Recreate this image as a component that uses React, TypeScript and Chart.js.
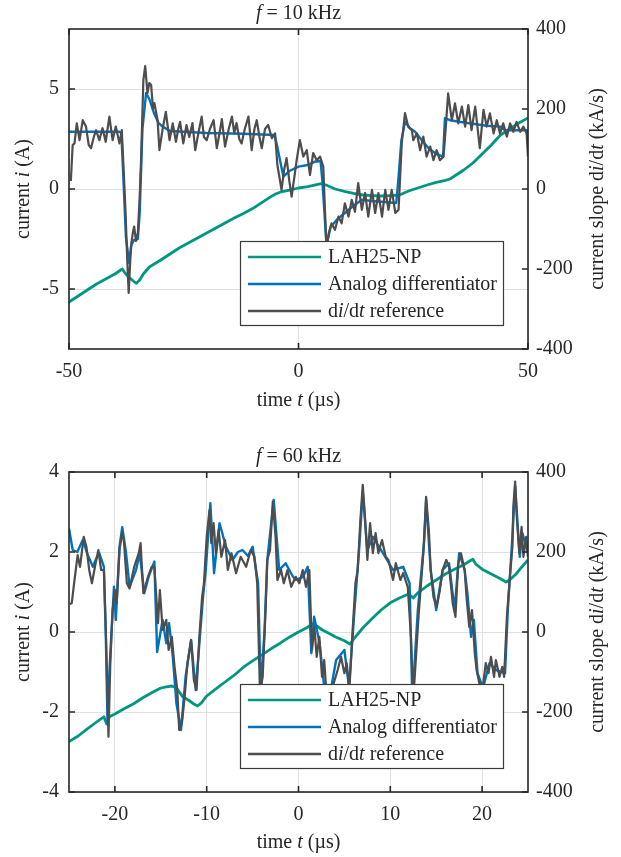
import React, { useEffect, useRef } from "react";
import { Chart, registerables } from "chart.js";
Chart.register(...registerables);

// ---------------- data: top panel (f = 10 kHz) ----------------
const TOP_X_TICKS = [-50, 0, 50];
const TOP_I_TICKS = [-5, 0, 5];
const SLOPE_TICKS = [-400, -200, 0, 200, 400];

const TOP_LAH_T = [-50, -48, -46, -44, -42, -40, -38.4, -37.8, -37, -36, -35.3, -34.6, -33.8, -32.5, -30, -28, -26, -24, -22, -20, -18, -16, -14, -12, -10, -8, -6, -5, -4, -2, 0, 2, 4, 5, 6, 7, 8, 10, 12, 14, 16, 18, 20, 22, 23, 24, 26, 28, 30, 32, 33, 34, 36, 38, 40, 42, 44, 46, 48, 50];
const TOP_LAH_I = [-5.65, -5.35, -5.05, -4.75, -4.5, -4.25, -4.0, -4.2, -4.4, -4.6, -4.72, -4.55, -4.25, -3.9, -3.55, -3.25, -2.95, -2.7, -2.45, -2.2, -1.95, -1.7, -1.45, -1.22, -0.98, -0.68, -0.38, -0.25, -0.16, -0.06, 0.05, 0.12, 0.22, 0.27, 0.2, 0.1, 0.0, -0.12, -0.22, -0.3, -0.33, -0.35, -0.33, -0.3, -0.2, -0.1, 0.05, 0.2, 0.33, 0.43, 0.5, 0.65, 0.95, 1.3, 1.75, 2.2, 2.7, 3.0, 3.3, 3.55];

const TOP_ANA_T = [-50, -39, -38.6, -38.2, -37.6, -36.9, -36.4, -35.8, -35.0, -34.6, -34.0, -33.2, -32.5, -31.5, -30.5, -29.6, -28, -20, -12, -5.2, -4.7, -3.3, -2, 0, 2, 3.5, 4.8, 5.2, 6.1, 7, 8.5, 10.1, 12, 13.8, 16, 18, 21.3, 21.8, 22.4, 23.2, 24.3, 25.4, 27, 28.5, 30, 31.5, 31.9, 33, 35, 38, 41, 43.9, 45, 48, 49.7, 50];
const TOP_ANA_V = [143, 143, 140, 40, -120, -185, -140, -127, -125, -60, 150, 240, 225, 190, 165, 156, 145, 140, 138, 135, 110, 31, 45, 56, 60, 68, 70, 20, -140, -95, -75, -60, -42, -27, -30, -32, -35, 30, 120, 168, 152, 143, 120, 100, 88, 81, 177, 172, 168, 163, 158, 156, 147, 147, 147, 130];

const TOP_REF_T = [-49.6, -49.2, -48.8, -48.3, -47.7, -47, -46.3, -45.7, -45.2, -44.6, -44.1, -43.4, -42.7, -42, -41.6, -41.2, -40.5, -39.8, -39, -38.5, -38.1, -37.7, -37.3, -37, -36.5, -36.1, -35.8, -35.4, -35, -34.6, -34.3, -33.8, -33.4, -32.9, -32.5, -32.1, -31.7, -31.4, -30.7, -30.3, -29.6, -28.9, -28.1, -27.4, -26.7, -26.2, -25.8, -25.1, -24.4, -23.8, -23.1, -22.5, -21.8, -21.1, -20.6, -20, -19.3, -18.5, -17.8, -17.2, -16.7, -16, -15.2, -14.5, -14, -13.5, -12.9, -12.4, -11.7, -10.9, -10.2, -9.6, -9.1, -8.5, -8, -7.3, -6.6, -5.8, -5.1, -4.6, -3.7, -3.1, -2.6, -2, -1.5, -0.9, -0.4, 0.3, 1.05, 1.8, 2.5, 3.2, 3.96, 4.7, 5.4, 6.1, 6.6, 7.2, 7.95, 8.7, 9.4, 10.1, 10.9, 11.6, 12.3, 13, 13.8, 14.5, 15.2, 16, 16.7, 17.4, 18.2, 18.9, 19.6, 20.3, 21.1, 21.8, 22.5, 23.2, 23.9, 24.7, 25, 25.8, 26.5, 27.2, 27.9, 28.7, 29.4, 30.1, 30.8, 31.6, 32.1, 32.6, 33.4, 34.1, 34.8, 35.6, 36.3, 37, 37.7, 38.5, 39.5, 40.3, 41, 41.7, 42.5, 43.2, 43.9, 44.6, 45.4, 46.1, 46.8, 47.5, 48.3, 49, 49.7, 50];
const TOP_REF_V = [20, 110, 114, 164, 122, 172, 156, 110, 102, 130, 147, 122, 152, 118, 150, 181, 122, 156, 114, 147, 50, -52, -180, -260, -144, -110, -94, -130, -110, -20, 72, 272, 307, 240, 265, 260, 200, 215, 172, 97, 150, 193, 122, 164, 118, 150, 168, 114, 160, 130, 165, 97, 140, 181, 130, 122, 150, 172, 102, 140, 175, 106, 150, 181, 140, 165, 125, 114, 150, 181, 97, 150, 172, 130, 102, 150, 160, 127, 139, 60, -2, 50, 77, 20, -19, 30, 72, 122, 81, 97, 35, 90, 72, 81, 56, -150, -110, -86, -102, -69, -86, -36, -69, -27, -57, 15, -52, -10, -69, -2, -60, -10, -69, -2, -52, -2, -60, -52, 115, 190, 156, 147, 122, 139, 97, 131, 81, 106, 72, 97, 72, 81, 156, 239, 172, 214, 164, 206, 156, 210, 147, 206, 102, 198, 156, 189, 139, 172, 139, 164, 131, 164, 143, 168, 143, 156, 139, 81];

// ---------------- data: bottom panel (f = 60 kHz) ----------------
const BOT_X_TICKS = [-20, -10, 0, 10, 20];
const BOT_I_TICKS = [-4, -2, 0, 2, 4];

const BOT_LAH_T = [-25, -24, -23, -22, -21.2, -20.9, -20.6, -20, -19, -18, -17, -16, -15, -14.4, -13.8, -13.3, -12.6, -12, -11.4, -11, -10.6, -10, -9, -8, -7, -6, -5, -4, -3, -2, -1, 0, 1, 1.5, 2, 2.6, 3.2, 4, 5, 5.6, 6, 7, 8, 9, 10, 11, 12, 12.5, 13, 14, 15, 16, 17, 18, 18.7, 19, 19.3, 20, 21, 22, 22.6, 23, 23.7, 24.3, 25];
const BOT_LAH_I = [-2.74, -2.6, -2.42, -2.25, -2.12, -2.3, -2.12, -2.05, -1.92, -1.8, -1.65, -1.52, -1.4, -1.37, -1.35, -1.4, -1.62, -1.7, -1.8, -1.85, -1.78, -1.6, -1.42, -1.25, -1.08, -0.88, -0.72, -0.57, -0.42, -0.28, -0.13, 0, 0.12, 0.2, 0.15, 0.05, -0.02, -0.12, -0.22, -0.3, -0.18, 0.1, 0.33, 0.55, 0.73, 0.85, 0.95, 0.85, 0.98, 1.15, 1.3, 1.45, 1.57, 1.68, 1.78, 1.82, 1.7, 1.57, 1.45, 1.33, 1.25, 1.3, 1.45, 1.62, 1.8];

const BOT_ANA_T = [-25, -24.6, -24.1, -23.5, -23, -22.4, -22, -21.7, -21.2, -21.0, -20.8, -20.6, -20.4, -20.1, -19.9, -19.5, -19.2, -18.8, -18.4, -17.7, -17.3, -16.8, -16.3, -15.7, -15.4, -14.8, -14.4, -14.1, -13.7, -13.3, -12.8, -12.3, -11.7, -11.2, -10.7, -10.4, -10.1, -9.6, -9.2, -8.6, -7.9, -7.2, -6.6, -6.1, -5.5, -5, -4.4, -4.1, -3.7, -3.4, -2.7, -2.1, -1.4, -0.6, -0.3, 0.5, 1, 1.4, 1.7, 2.3, 2.8, 3.4, 4.1, 5, 5.5, 6.1, 6.6, 7, 7.5, 8.1, 9.2, 10.3, 11.4, 12.1, 12.4, 13, 13.7, 13.9, 14.4, 15, 15.7, 16.4, 17, 17.5, 18.1, 18.4, 18.8, 19.1, 19.5, 20.1, 20.8, 21.5, 22.5, 22.8, 23.3, 23.6, 24.1, 24.4, 25];
const BOT_ANA_V = [259, 205, 200, 230, 195, 163, 185, 197, 163, 0, -228, -100, -12, 113, 30, 213, 262, 200, 113, 155, 197, 97, 140, 176, -50, 30, -28, 22, -60, -178, -245, -112, -20, -145, 0, 88, 155, 322, 147, 272, 213, 180, 200, 205, 190, 213, 122, -150, 5, 180, 330, 155, 172, 138, 130, 138, 163, -53, 38, -28, -137, -160, -70, -45, -137, 55, 205, 350, 205, 238, 197, 155, 163, 122, -170, 55, 230, 330, 155, 55, 155, 172, 55, 197, 155, 97, -12, 30, -103, -140, -78, -95, -103, 55, 238, 365, 188, 247, 197];

const BOT_REF_T = [-24.9, -24.7, -24.4, -24.06, -23.8, -23.4, -23.1, -22.8, -22.5, -22.1, -21.8, -21.5, -21.2, -20.97, -20.7, -20.5, -20.25, -20, -19.8, -19.5, -19.2, -19, -18.7, -18.4, -17.9, -17.4, -17.2, -16.9, -16.4, -16, -15.7, -15.3, -15.1, -14.8, -14.4, -14.15, -13.8, -13.5, -13.2, -13, -12.7, -12.4, -12.1, -11.7, -11.4, -11.1, -10.8, -10.5, -10.3, -10, -9.7, -9.5, -9.25, -9, -8.7, -8.4, -8, -7.7, -7.3, -6.8, -6.3, -5.7, -5.2, -4.8, -4.5, -4.2, -3.9, -3.6, -3.4, -3.1, -2.8, -2.5, -2.3, -1.9, -1.6, -1.2, -0.8, -0.3, 0.09, 0.46, 0.82, 1.18, 1.47, 1.73, 1.98, 2.27, 2.56, 2.8, 3.07, 3.36, 3.72, 4.27, 4.63, 5, 5.25, 5.54, 5.9, 6.2, 6.45, 6.74, 7, 7.24, 7.5, 7.8, 8.1, 8.4, 8.7, 9.1, 9.5, 9.8, 10.3, 10.6, 11.1, 11.4, 11.9, 12.25, 12.5, 12.8, 13.1, 13.4, 13.6, 13.9, 14.2, 14.4, 14.7, 15.05, 15.4, 15.7, 16.1, 16.4, 16.8, 17.1, 17.4, 17.7, 18.1, 18.3, 18.6, 18.9, 19.2, 19.4, 19.7, 20.06, 20.4, 20.7, 20.97, 21.3, 21.5, 21.9, 22.2, 22.4, 22.7, 23, 23.3, 23.4, 23.6, 23.8, 24.05, 24.3, 24.5, 24.8, 25];
const BOT_REF_V = [70, 72, 130, 192, 163, 238, 213, 155, 122, 172, 205, 155, 155, -12, -262, -78, 55, 105, 72, 205, 251, 222, 122, 109, 163, 197, 222, 97, 138, 163, 163, 22, 105, 5, 30, -45, -12, -87, -145, -245, -228, -162, -78, -20, -120, -145, -12, 88, 122, 238, 305, 222, 272, 197, 255, 188, 230, 155, 197, 147, 188, 163, 205, 188, 122, -150, -112, 47, 180, 205, 326, 238, 130, 155, 122, 155, 113, 138, 122, 155, 113, 155, -45, 13, -62, -12, -112, -70, -162, -178, -137, -95, -62, -103, -78, -145, 5, 122, 155, 280, 368, 288, 180, 272, 197, 247, 197, 230, 188, 180, 130, 172, 130, 147, 113, -12, -170, -62, 47, 138, 197, 338, 255, 155, 88, 63, 105, 155, 180, 163, 72, 38, 172, 197, 155, 88, 13, 55, -53, -95, -128, -140, -78, -103, -62, -112, -70, -112, -87, -112, 38, 130, 213, 313, 376, 280, 197, 263, 188, 238, 188];

// ---------------- styling ----------------
const FONT = '"Liberation Serif", "Times New Roman", serif';
const FS = 20;
const TEXT = "#262626";
const C_LAH = "#00977F";
const C_ANA = "#0072BD";
const C_REF = "#4D4D4D";
const GRID = "#e0e0e0";

type Part = [string, boolean];

function fnt(it: boolean) {
  return `${it ? "italic " : ""}${FS}px ${FONT}`;
}
function drawRich(ctx: CanvasRenderingContext2D, parts: Part[], x: number, y: number, align: "center" | "left") {
  let w = 0;
  for (const [s, it] of parts) {
    ctx.font = fnt(it);
    w += ctx.measureText(s).width;
  }
  let cx = align === "center" ? x - w / 2 : x;
  ctx.textBaseline = "middle";
  ctx.textAlign = "left";
  ctx.fillStyle = TEXT;
  for (const [s, it] of parts) {
    ctx.font = fnt(it);
    ctx.fillText(s, cx, y);
    cx += ctx.measureText(s).width;
  }
}

const zip = (t: number[], v: number[]) => t.map((x, i) => ({ x, y: v[i] }));

interface PanelProps {
  freq: string;
  canvasH: number;
  padTop: number;
  xAxisH: number;
  xMin: number;
  xMax: number;
  iMin: number;
  iMax: number;
  xTicks: number[];
  iTicks: number[];
  titleY: number;
  xLabelY: number;
  lahT: number[];
  lahI: number[];
  anaT: number[];
  anaV: number[];
  refT: number[];
  refV: number[];
}

function Panel(p: PanelProps) {
  const ref = useRef<HTMLCanvasElement | null>(null);
  useEffect(() => {
    const canvas = ref.current!;
    const deco = {
      id: "deco",
      afterDraw(chart: any) {
        const ctx: CanvasRenderingContext2D = chart.ctx;
        const a = chart.chartArea;
        const xs = chart.scales.x;
        const ys = chart.scales.y;
        const y1 = chart.scales.y1;
        ctx.save();
        // box
        ctx.strokeStyle = TEXT;
        ctx.lineWidth = 1.6;
        ctx.strokeRect(a.left, a.top, a.right - a.left, a.bottom - a.top);
        // ticks
        const TL = 6;
        ctx.beginPath();
        for (const v of p.xTicks) {
          const px = xs.getPixelForValue(v);
          ctx.moveTo(px, a.bottom);
          ctx.lineTo(px, a.bottom - TL);
          ctx.moveTo(px, a.top);
          ctx.lineTo(px, a.top + TL);
        }
        for (const v of p.iTicks) {
          const py = ys.getPixelForValue(v);
          ctx.moveTo(a.left, py);
          ctx.lineTo(a.left + TL, py);
        }
        for (const v of SLOPE_TICKS) {
          const py = y1.getPixelForValue(v);
          ctx.moveTo(a.right, py);
          ctx.lineTo(a.right - TL, py);
        }
        ctx.stroke();
        // legend
        const lx = 240, lw = 264, ly = a.top + 212, lh = 85;
        ctx.fillStyle = "#ffffff";
        ctx.fillRect(lx, ly, lw, lh);
        ctx.strokeStyle = "#3a3a3a";
        ctx.lineWidth = 1.2;
        ctx.strokeRect(lx + 0.5, ly + 0.5, lw - 1, lh - 1);
        const entries: [string, Part[], number][] = [
          [C_LAH, [["LAH25-NP", false]], 2.6],
          [C_ANA, [["Analog differentiator", false]], 2.4],
          [C_REF, [["d", false], ["i", true], ["/d", false], ["t", true], [" reference", false]], 2.4],
        ];
        entries.forEach(([col, parts, lwid], k) => {
          const ry = ly + 16 + k * 27;
          ctx.strokeStyle = col;
          ctx.lineWidth = lwid;
          ctx.beginPath();
          ctx.moveTo(248, ry);
          ctx.lineTo(321, ry);
          ctx.stroke();
          drawRich(ctx, parts, 328, ry + 1, "left");
        });
        // titles and labels
        const cx = (a.left + a.right) / 2;
        const cy = (a.top + a.bottom) / 2;
        drawRich(ctx, [["f", true], [` = ${p.freq} kHz`, false]], cx, p.titleY, "center");
        drawRich(ctx, [["time ", false], ["t", true], [" (µs)", false]], cx, p.xLabelY, "center");
        ctx.save();
        ctx.translate(24, cy);
        ctx.rotate(-Math.PI / 2);
        drawRich(ctx, [["current ", false], ["i", true], [" (A)", false]], 0, 0, "center");
        ctx.restore();
        ctx.save();
        ctx.translate(598, cy);
        ctx.rotate(-Math.PI / 2);
        drawRich(ctx, [["current slope d", false], ["i", true], ["/d", false], ["t", true], [" (kA/s)", false]], 0, 0, "center");
        ctx.restore();
        ctx.restore();
      },
    };
    const tickFont = { family: FONT, size: FS };
    const chart = new Chart(canvas, {
      type: "line",
      data: {
        datasets: [
          { label: "di/dt reference", data: zip(p.refT, p.refV), yAxisID: "y1", borderColor: C_REF, borderWidth: 2.2, order: 1 },
          { label: "Analog differentiator", data: zip(p.anaT, p.anaV), yAxisID: "y1", borderColor: C_ANA, borderWidth: 2.4, order: 2 },
          { label: "LAH25-NP", data: zip(p.lahT, p.lahI), yAxisID: "y", borderColor: C_LAH, borderWidth: 2.8, order: 3 },
        ],
      },
      options: {
        responsive: false,
        animation: false,
        devicePixelRatio: 1,
        parsing: false as any,
        elements: { point: { radius: 0 }, line: { tension: 0, borderJoinStyle: "round", fill: false } },
        layout: { padding: { top: p.padTop, left: 0, right: 0, bottom: 0 } },
        plugins: { legend: { display: false }, tooltip: { enabled: false }, title: { display: false } },
        scales: {
          x: {
            type: "linear",
            min: p.xMin,
            max: p.xMax,
            afterBuildTicks: (s: any) => {
              s.ticks = p.xTicks.map((v) => ({ value: v }));
            },
            afterFit: (s: any) => {
              s.height = p.xAxisH;
            },
            grid: { color: GRID, lineWidth: 1, drawTicks: false },
            border: { display: false },
            ticks: { font: tickFont, color: TEXT, padding: 11, maxRotation: 0, autoSkip: false, callback: (v: any) => String(v) },
          },
          y: {
            type: "linear",
            position: "left",
            min: p.iMin,
            max: p.iMax,
            afterBuildTicks: (s: any) => {
              s.ticks = p.iTicks.map((v) => ({ value: v }));
            },
            afterFit: (s: any) => {
              s.width = 69;
            },
            grid: { color: GRID, lineWidth: 1, drawTicks: false },
            border: { display: false },
            ticks: { font: tickFont, color: TEXT, padding: 10, autoSkip: false, callback: (v: any) => String(v) },
          },
          y1: {
            type: "linear",
            position: "right",
            min: -400,
            max: 400,
            afterBuildTicks: (s: any) => {
              s.ticks = SLOPE_TICKS.map((v) => ({ value: v }));
            },
            afterFit: (s: any) => {
              s.width = 93;
            },
            grid: { display: false, drawTicks: false },
            border: { display: false },
            ticks: { font: tickFont, color: TEXT, padding: 8, autoSkip: false, callback: (v: any) => String(v) },
          },
        },
      },
      plugins: [deco],
    } as any);
    return () => chart.destroy();
  }, []);
  return <canvas ref={ref} width={621} height={p.canvasH} style={{ display: "block", width: 621, height: p.canvasH }} />;
}

export default function App() {
  return (
    <div style={{ position: "absolute", left: 0, top: 0, width: 621, height: 857, background: "#ffffff" }}>
      <Panel
        freq="10"
        canvasH={430}
        padTop={29}
        xAxisH={81}
        xMin={-50}
        xMax={50}
        iMin={-8}
        iMax={8}
        xTicks={TOP_X_TICKS}
        iTicks={TOP_I_TICKS}
        titleY={14}
        xLabelY={401}
        lahT={TOP_LAH_T}
        lahI={TOP_LAH_I}
        anaT={TOP_ANA_T}
        anaV={TOP_ANA_V}
        refT={TOP_REF_T}
        refV={TOP_REF_V}
      />
      <Panel
        freq="60"
        canvasH={427}
        padTop={42}
        xAxisH={65}
        xMin={-25}
        xMax={25}
        iMin={-4}
        iMax={4}
        xTicks={BOT_X_TICKS}
        iTicks={BOT_I_TICKS}
        titleY={27}
        xLabelY={413}
        lahT={BOT_LAH_T}
        lahI={BOT_LAH_I}
        anaT={BOT_ANA_T}
        anaV={BOT_ANA_V}
        refT={BOT_REF_T}
        refV={BOT_REF_V}
      />
    </div>
  );
}
